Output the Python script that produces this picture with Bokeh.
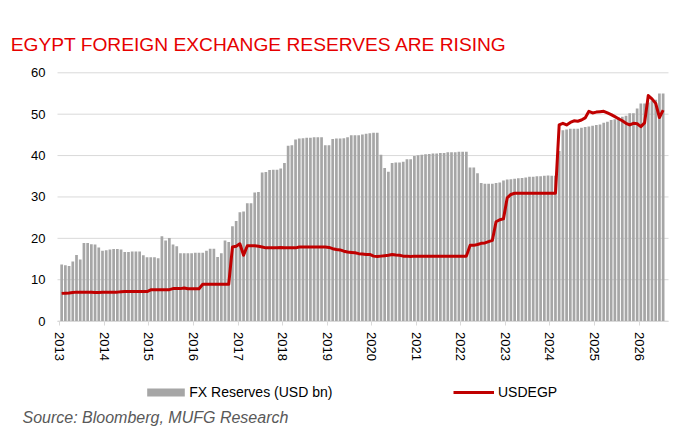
from bokeh.plotting import figure
from bokeh.models import (FixedTicker, Label, Legend, LegendItem, ColumnDataSource,
                          Range1d, LinearAxis)
from bokeh.embed import file_html
from bokeh.resources import INLINE

# ---- data (monthly, Jan 2013 .. Jul 2026) ----
start_year = 2013
reserves = [
    13.7, 13.5, 13.3, 14.4, 16.0, 14.9, 18.9, 18.9, 18.6, 18.5, 17.8, 17.0,   # 2013
    17.1, 17.3, 17.4, 17.4, 17.3, 16.7, 16.7, 16.8, 16.8, 16.8, 15.9, 15.4,   # 2014
    15.4, 15.4, 15.2, 20.5, 19.5, 20.1, 18.5, 18.1, 16.4, 16.4, 16.4, 16.4,   # 2015
    16.5, 16.5, 16.5, 17.0, 17.5, 17.5, 15.5, 16.4, 19.5, 19.1, 22.9, 24.2,   # 2016
    26.3, 26.5, 28.5, 28.5, 31.1, 31.2, 35.9, 36.0, 36.5, 36.6, 36.6, 36.9,   # 2017
    38.2, 42.4, 42.5, 43.9, 44.1, 44.2, 44.3, 44.3, 44.4, 44.4, 44.4, 42.5,   # 2018
    42.5, 44.0, 44.1, 44.1, 44.2, 44.4, 44.9, 44.9, 44.9, 45.1, 45.3, 45.4,   # 2019
    45.5, 45.5, 40.2, 37.0, 36.1, 38.2, 38.3, 38.3, 38.5, 39.1, 39.1, 39.9,   # 2020
    40.1, 40.2, 40.3, 40.4, 40.5, 40.5, 40.6, 40.6, 40.8, 40.8, 40.8, 40.9,   # 2021
    40.9, 40.9, 37.1, 37.1, 35.7, 33.4, 33.2, 33.2, 33.2, 33.4, 33.5, 34.0,   # 2022
    34.2, 34.3, 34.4, 34.5, 34.6, 34.7, 34.9, 34.9, 35.0, 35.0, 35.1, 35.2,   # 2023
    35.1, 35.1, 41.1, 46.1, 46.3, 46.5, 46.5, 46.5, 46.7, 46.9, 47.0, 47.2,   # 2024
    47.4, 47.5, 47.9, 48.2, 48.6, 48.8, 49.2, 49.4, 49.6, 50.2, 50.2, 51.4,   # 2025
    52.6, 52.6, 52.8, 53.3, 53.5, 55.0, 55.0,                                 # 2026
]
usdegp = [
    6.7, 6.75, 6.8, 6.9, 7.0, 7.0, 7.0, 7.0, 6.95, 6.9, 6.9, 6.95,            # 2013
    6.96, 6.96, 6.96, 7.0, 7.1, 7.15, 7.15, 7.15, 7.15, 7.15, 7.15, 7.15,     # 2014
    7.55, 7.6, 7.6, 7.6, 7.6, 7.6, 7.85, 7.85, 7.85, 8.0, 7.8, 7.8,           # 2015
    7.8, 7.8, 8.9, 8.9, 8.9, 8.9, 8.9, 8.9, 8.9, 8.9, 17.9, 18.1,             # 2016
    18.7, 15.9, 18.2, 18.2, 18.2, 18.1, 17.9, 17.7, 17.7, 17.7, 17.7, 17.8,   # 2017
    17.7, 17.7, 17.7, 17.7, 17.9, 17.9, 17.9, 17.9, 17.9, 17.9, 17.9, 17.9,   # 2018
    17.8, 17.5, 17.3, 17.2, 16.9, 16.7, 16.6, 16.5, 16.3, 16.2, 16.1, 16.1,   # 2019
    15.7, 15.6, 15.7, 15.8, 15.9, 16.1, 15.95, 15.9, 15.7, 15.7, 15.6, 15.7,  # 2020
    15.7, 15.7, 15.7, 15.7, 15.7, 15.7, 15.7, 15.7, 15.7, 15.7, 15.7, 15.7,   # 2021
    15.7, 15.7, 18.3, 18.3, 18.5, 18.8, 18.9, 19.2, 19.5, 24.0, 24.5, 24.7,   # 2022
    29.8, 30.6, 30.9, 30.9, 30.9, 30.9, 30.9, 30.9, 30.9, 30.9, 30.9, 30.9,   # 2023
    30.9, 30.9, 47.4, 47.8, 47.4, 48.0, 48.4, 48.3, 48.6, 49.1, 50.7, 50.3,   # 2024
    50.5, 50.6, 50.7, 50.3, 49.9, 49.4, 48.9, 48.4, 47.8, 47.4, 47.8, 47.7,   # 2025
    47.0, 47.9, 54.5, 53.7, 52.6, 49.2, 51.0,                                 # 2026
]
year_ticks = list(range(2013, 2027))
value_ticks = [0, 10, 20, 30, 40, 50, 60]
title_text = "EGYPT FOREIGN EXCHANGE RESERVES ARE RISING"
source_text = "Source: Bloomberg, MUFG Research"
reserves_label = "FX Reserves (USD bn)"
fx_label = "USDEGP"

# ---- layout constants (canvas pixels, from the top-left) ----
CW, CH = 679, 429
TICK0_PX = 59.3            # x pixel of the first year tick
PX_PER_YEAR = 44.554
AREA_LEFT_PX, AREA_RIGHT_PX = 57.0, 668.0
ZERO_PX, TOP_PX = 320.6, 72.3   # y pixel of value 0 and of the top tick
BAR_COLOR = "#a6a6a6"
LINE_COLOR = "#c00000"
GRID_COLOR = "#d9d9d9"
FONT = "Liberation Sans"

px_per_val = (ZERO_PX - TOP_PX) / (value_ticks[-1] - value_ticks[0])
x_start = year_ticks[0] - TICK0_PX / PX_PER_YEAR
x_end = x_start + CW / PX_PER_YEAR
y_start = -(CH - ZERO_PX) / px_per_val
y_end = ZERO_PX / px_per_val
area_left = x_start + AREA_LEFT_PX / PX_PER_YEAR
area_right = x_start + AREA_RIGHT_PX / PX_PER_YEAR

month_x = [start_year + (i + 0.5) / 12 for i in range(len(reserves))]
src = ColumnDataSource(dict(x=month_x, res=reserves, fx=usdegp))

p = figure(width=CW, height=CH, output_backend="svg", toolbar_location=None, title=None,
           x_range=Range1d(x_start, x_end), y_range=Range1d(y_start, y_end),
           min_border=0, x_axis_location=None, y_axis_location=None)
p.outline_line_color = None
p.background_fill_color = "white"
p.border_fill_color = "white"
p.grid.visible = False

# horizontal gridlines across the plot area
p.segment(x0=[area_left] * len(value_ticks), x1=[area_right] * len(value_ticks),
          y0=value_ticks, y1=value_ticks, line_color=GRID_COLOR, line_width=1,
          level="underlay")

bars = p.vbar(x="x", top="res", width=0.73 / 12, bottom=0, source=src,
              fill_color=BAR_COLOR, line_color=None)
line = p.line(x="x", y="fx", source=src, line_color=LINE_COLOR, line_width=3,
              line_join="round")

yax = LinearAxis(fixed_location=area_left, ticker=FixedTicker(ticks=value_ticks))
yax.axis_line_color = None
yax.major_tick_line_color = None
yax.minor_tick_line_color = None
yax.major_tick_out = 0
yax.major_tick_in = 0
yax.major_label_standoff = 12
yax.major_label_text_font = FONT
yax.major_label_text_font_size = "13px"
yax.major_label_text_color = "black"
p.add_layout(yax, "left")

xax = LinearAxis(fixed_location=0, ticker=FixedTicker(ticks=year_ticks),
                 bounds=(area_left, area_right))
xax.axis_line_color = GRID_COLOR
xax.major_tick_line_color = GRID_COLOR
xax.minor_tick_line_color = None
xax.major_tick_out = 4
xax.major_tick_in = 0
xax.major_label_orientation = "vertical"
xax.major_label_standoff = 7
xax.major_label_text_font = FONT
xax.major_label_text_font_size = "13px"
xax.major_label_text_color = "black"
p.add_layout(xax, "below")

# title (screen units: pixels from the canvas' bottom-left)
p.add_layout(Label(x=10.2, y=CH - 44, x_units="screen", y_units="screen", text=title_text,
                   text_font=FONT, text_font_size="19.2px", text_color="#e60000",
                   text_align="left", text_baseline="alphabetic"))
# source
p.add_layout(Label(x=22, y=CH - 416.5, x_units="screen", y_units="screen", text=source_text,
                   text_font=FONT, text_font_size="16px", text_font_style="italic",
                   text_color="#595959", text_align="left", text_baseline="alphabetic"))

common = dict(orientation="horizontal", glyph_height=10, label_height=10,
              label_text_font=FONT, label_text_font_size="14px", label_text_color="black",
              padding=0, margin=0, spacing=0, border_line_color=None,
              background_fill_alpha=0)
leg_y = CH - 392.3 - 8
leg1 = Legend(items=[LegendItem(label=reserves_label, renderers=[bars])],
              location=(142.25, leg_y), glyph_width=47, label_standoff=0, **common)
leg2 = Legend(items=[LegendItem(label=fx_label, renderers=[line])],
              location=(453, leg_y), glyph_width=41, label_standoff=4, **common)
p.add_layout(leg1)
p.add_layout(leg2)

open("out.html", "w").write(file_html(p, INLINE))
